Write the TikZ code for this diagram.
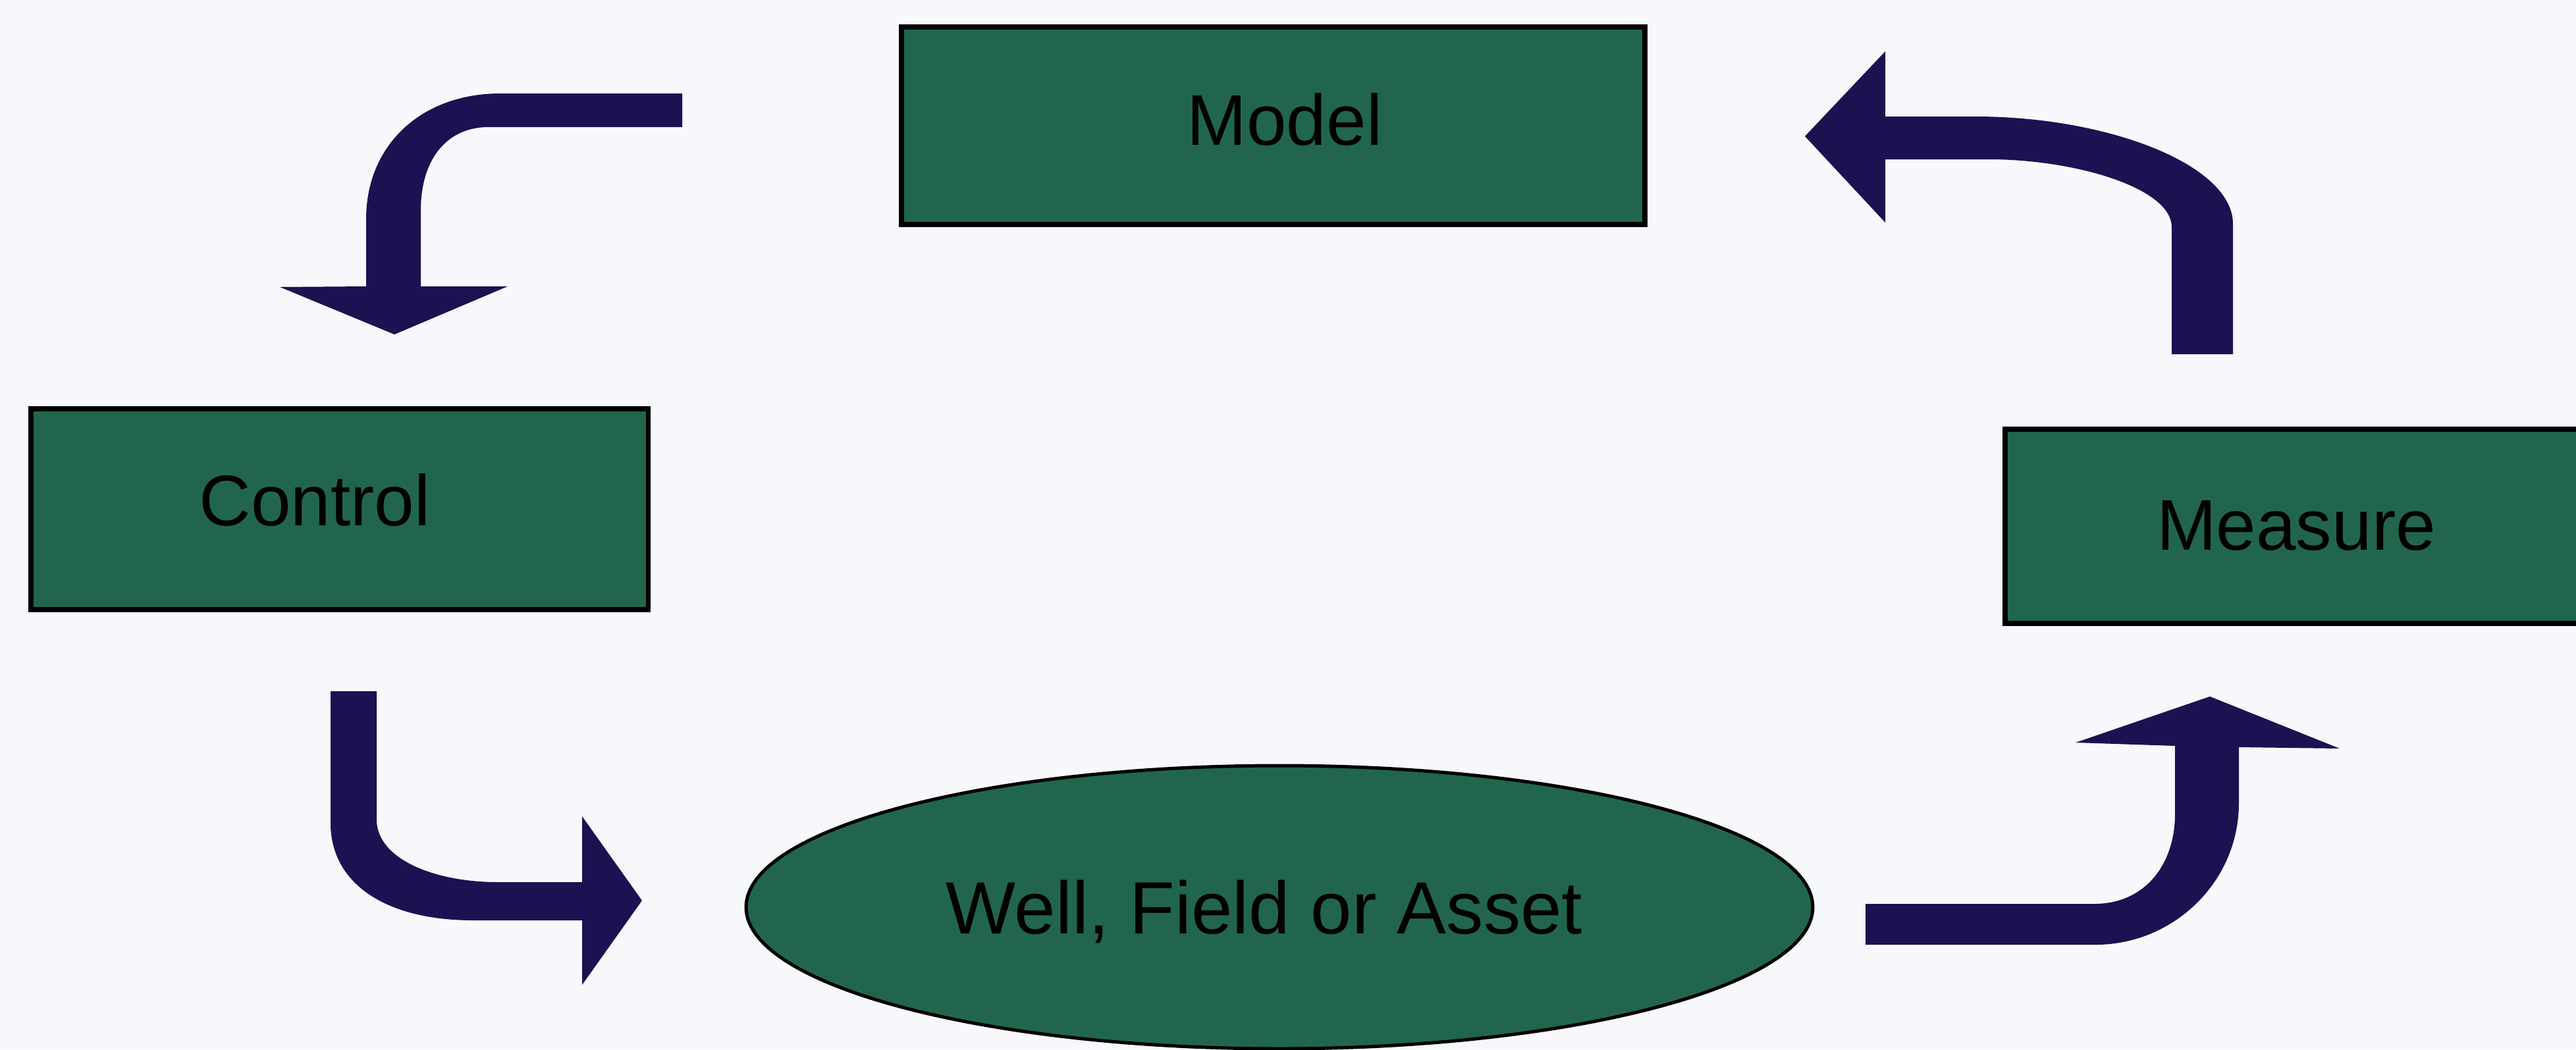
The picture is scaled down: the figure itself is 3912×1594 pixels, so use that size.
\documentclass[tikz,border=0pt]{standalone}
\usepackage{fontspec}
\setmainfont{Liberation Sans}
\usetikzlibrary{shapes.geometric}
\definecolor{boxgreen}{RGB}{33,102,76}
\definecolor{arrownavy}{RGB}{27,18,82}
\definecolor{bgcol}{RGB}{247,248,252}
\begin{document}
\begin{tikzpicture}[x=0.1mm,y=-0.1mm,
  box/.style={draw=black,line width=0.75mm,fill=boxgreen,rectangle,inner sep=0pt,anchor=north west},
  oval/.style={draw=black,line width=0.5mm,fill=boxgreen,ellipse,inner sep=0pt},
  lbl/.style={font=\fontsize{31pt}{37pt}\selectfont,text=black,inner sep=0pt,anchor=base},
  biglbl/.style={font=\fontsize{32pt}{38pt}\selectfont,text=black,inner sep=0pt,anchor=base},
  blockarrow/.style={fill=arrownavy,draw=none}]
\useasboundingbox (0,0) rectangle (3912,1594);
\clip (0,0) rectangle (3912,1594);
\fill[bgcol] (0,0) rectangle (3912,1594);

% nodes
\node[box,minimum width=112.9mm,minimum height=30.0mm] (model) at (1365,37) {};
\node[box,minimum width=93.8mm,minimum height=30.5mm] (control) at (43,617) {};
\node[box,minimum width=89.4mm,minimum height=29.5mm] (measure) at (3041,648) {};
\node[oval,minimum width=162mm,minimum height=43mm] (well) at (1943,1378) {};

\node[lbl] (modelt) at (1951,220) {Model};
\node[lbl] (controlt) at (478,798) {Control};
\node[lbl] (measuret) at (3487,835) {Measure};
\node[biglbl] (wellt) at (1920,1418) {Well, Field or Asset};

% block arrows
% Model -> Control
\fill[blockarrow] (1036,142) -- (760,142) .. controls (640,142) and (556,220) .. (556,333)
  -- (556,435) -- (425,436) -- (599,508) -- (771,435) -- (639,435) -- (639,320)
  .. controls (639,240) and (680,193) .. (742,193) -- (1036,193) -- cycle;
% Measure -> Model
\fill[blockarrow] (2741,207) -- (2863,78) -- (2863,177) -- (3000,177)
  .. controls (3200,177) and (3391,250) .. (3391,340) -- (3391,538) -- (3298,538) -- (3298,345)
  .. controls (3298,285) and (3150,242) .. (3020,242) -- (2863,242) -- (2863,338) -- cycle;
% Control -> Well
\fill[blockarrow] (502,1050) -- (572,1050) -- (572,1245)
  .. controls (572,1305) and (660,1340) .. (756,1340) -- (884,1340) -- (884,1240)
  -- (975,1368) -- (884,1496) -- (884,1398) -- (718,1398)
  .. controls (590,1398) and (502,1345) .. (502,1250) -- cycle;
% Well -> Measure
\fill[blockarrow] (2833,1373) -- (3180,1373) .. controls (3260,1373) and (3303,1310) .. (3303,1237)
  -- (3303,1133) -- (3152,1128) -- (3356,1058) -- (3553,1137) -- (3400,1135) -- (3400,1220)
  .. controls (3400,1340) and (3300,1435) .. (3183,1435) -- (2833,1435) -- cycle;
\end{tikzpicture}
\end{document}
